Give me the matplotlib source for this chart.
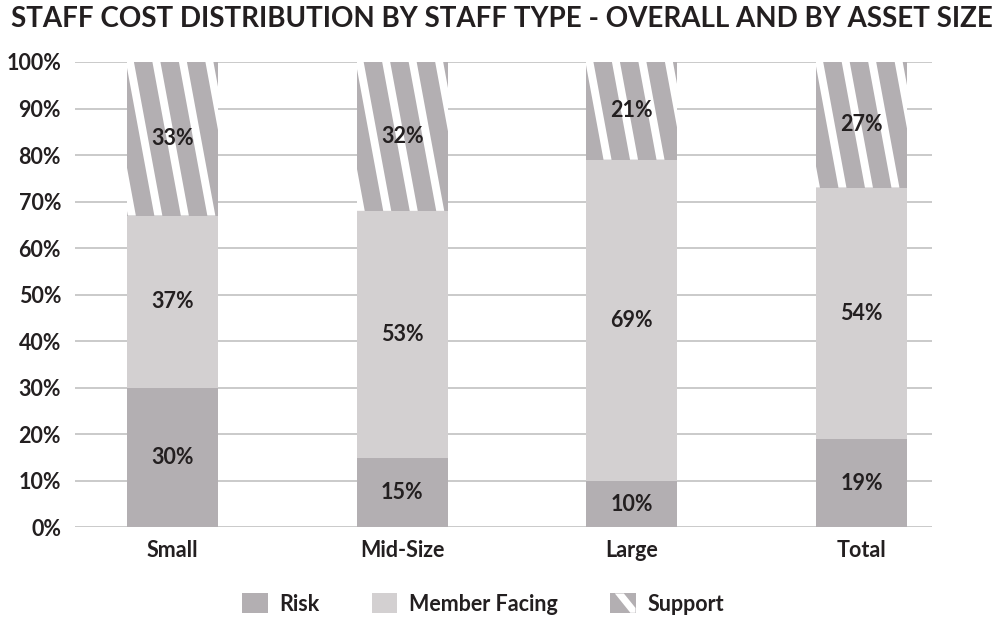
import matplotlib
matplotlib.use("Agg")
import matplotlib.pyplot as plt
from matplotlib.patches import Rectangle, Polygon, Patch
from matplotlib.legend_handler import HandlerBase
from matplotlib.transforms import IdentityTransform
from matplotlib import font_manager
import numpy as np

# ---- data ----
categories = ["Small", "Mid-Size", "Large", "Total"]
risk = [30, 15, 10, 19]
member_facing = [37, 53, 69, 54]
support = [33, 32, 21, 27]
series_names = ["Risk", "Member Facing", "Support"]
yticks = [0, 10, 20, 30, 40, 50, 60, 70, 80, 90, 100]
title = "STAFF COST DISTRIBUTION BY STAFF TYPE - OVERALL AND BY ASSET SIZE"

# ---- style ----
RISK_C = "#b3afb2"
MEMBER_C = "#d3d0d1"
SUPPORT_C = "#b3afb2"
TEXT_C = "#231f20"
GRID_C = "#c6c6c6"

avail = {f.name for f in font_manager.fontManager.ttflist}
base_font = "Lato" if "Lato" in avail else "DejaVu Sans"
plt.rcParams["font.family"] = [base_font, "DejaVu Sans"]

fig = plt.figure(figsize=(10, 6.2), dpi=100)
ax = fig.add_axes([0.075, 1 - 527.3 / 620, 0.857, (527.3 - 62) / 620])

x = np.arange(len(categories))
width = 0.396
bottom2 = np.array(risk) + np.array(member_facing)

b1 = ax.bar(x, risk, width, color=RISK_C, zorder=2)
b2 = ax.bar(x, member_facing, width, bottom=risk, color=MEMBER_C, zorder=2)
b3 = ax.bar(x, support, width, bottom=bottom2, color=SUPPORT_C, zorder=2)

ax.set_xlim(-0.424, 3.306)
ax.set_ylim(0, 100)
ax.set_yticks(yticks)
ax.set_yticklabels([f"{v}%" for v in yticks])
ax.set_xticks(x)
ax.set_xticklabels(categories)
ax.tick_params(axis="both", length=0, labelsize=15.5, colors=TEXT_C)
ax.tick_params(axis="y", pad=10)
ax.tick_params(axis="x", pad=9)
for lab in ax.get_yticklabels() + ax.get_xticklabels():
    lab.set_fontweight("bold")
for s in ax.spines.values():
    s.set_visible(False)
ax.yaxis.grid(True, color=GRID_C, linewidth=1.3, zorder=0)
ax.set_axisbelow(True)

# ---- white diagonal stripes on support bars (computed from bar geometry) ----
fig.canvas.draw()
P = 26.5      # horizontal period in px
W = 8.0       # white stripe horizontal width in px
SLOPE = 0.185 # horizontal shift per px downward
for rect in b3:
    (x0, y0) = ax.transData.transform((rect.get_x(), rect.get_y()))
    (x1, y1) = ax.transData.transform((rect.get_x() + rect.get_width(),
                                       rect.get_y() + rect.get_height()))
    h = y1 - y0
    shift = SLOPE * h
    for k in range(-2, 6):
        xs = x0 - 1 + k * P
        poly = Polygon([(xs, y1), (xs + W, y1), (xs + W + shift, y0), (xs + shift, y0)],
                       closed=True, facecolor="white", edgecolor="none",
                       transform=IdentityTransform(), zorder=3)
        ax.add_patch(poly)
        poly.set_clip_path(rect)

# ---- segment labels ----
def add_labels(bars, vals, bottoms):
    for r, v, b in zip(bars, vals, bottoms):
        ax.text(r.get_x() + r.get_width() / 2, b + v / 2, f"{v}%",
                ha="center", va="center", fontsize=15.5, fontweight="bold",
                color=TEXT_C, zorder=5)

add_labels(b1, risk, [0] * len(risk))
add_labels(b2, member_facing, risk)
add_labels(b3, support, bottom2)

# ---- title ----
fig.text(0.5015, 1 - 19 / 620, title, ha="center", va="center",
         fontsize=20, fontweight="bold", color=TEXT_C)

# ---- legend ----
class StripeHandler(HandlerBase):
    def create_artists(self, legend, orig_handle, xdescent, ydescent,
                       width, height, fontsize, trans):
        x0, y0 = -xdescent, -ydescent
        r = Rectangle((x0, y0), width, height, facecolor=SUPPORT_C,
                      edgecolor="none", transform=trans)
        pts = [(x0 + 0.2 * width, y0 + height), (x0 + 0.55 * width, y0 + height),
               (x0 + width, y0 + 0.25 * height), (x0 + width, y0),
               (x0 + 0.8 * width, y0)]
        s = Polygon(pts, closed=True, facecolor="white", edgecolor="none",
                    transform=trans)
        return [r, s]

handles = [Patch(facecolor=RISK_C), Patch(facecolor=MEMBER_C),
           Patch(facecolor=SUPPORT_C)]
leg = fig.legend(handles, series_names, loc="center",
                 bbox_to_anchor=(0.483, 1 - 604 / 620), ncol=3, frameon=False,
                 fontsize=15.5, handlelength=1.2, handleheight=1.0,
                 handletextpad=0.55, columnspacing=2.4,
                 handler_map={handles[2]: StripeHandler()})
for t in leg.get_texts():
    t.set_fontweight("bold")
    t.set_color(TEXT_C)

fig.savefig("out.png", dpi=100)
